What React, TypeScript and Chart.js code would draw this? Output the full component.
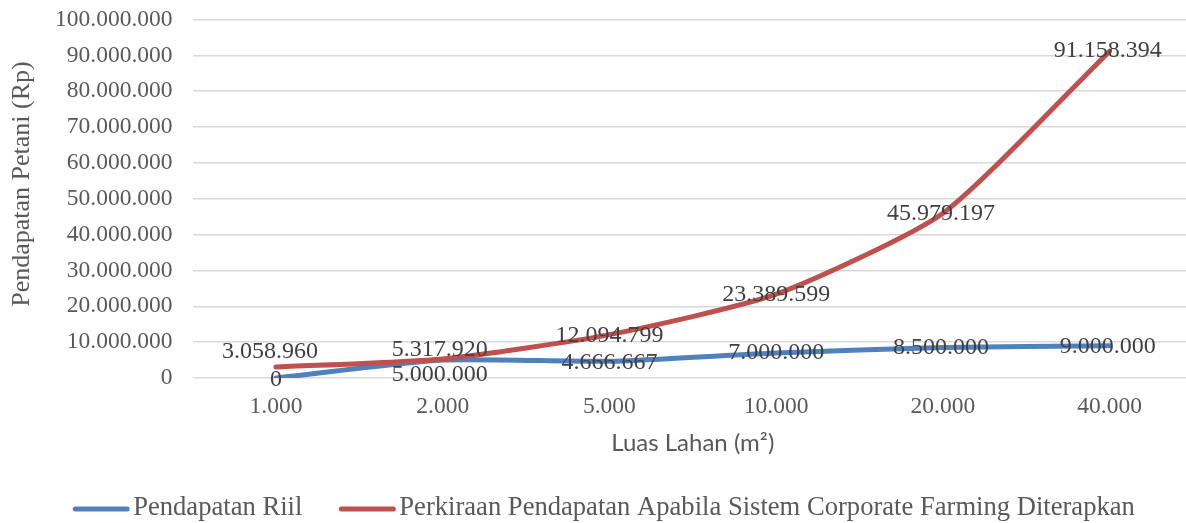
import React, { useEffect, useRef } from 'react';
import { Chart, registerables } from 'chart.js';

Chart.register(...registerables);

// ---- Data ----
const categories = ['1.000', '2.000', '5.000', '10.000', '20.000', '40.000'];
const pendapatanRiil = [0, 5000000, 4666667, 7000000, 8500000, 9000000];
const perkiraanCorporate = [3058960, 5317920, 12094799, 23389599, 45979197, 91158394];
const seriesNames = [
  'Pendapatan Riil',
  'Perkiraan Pendapatan Apabila Sistem Corporate Farming Diterapkan',
];
const yMin = 0;
const yMax = 100000000;
const yStep = 10000000;
const yAxisTitle = 'Pendapatan Petani (Rp)';
const xAxisTitle = 'Luas Lahan (m²)';

// ---- Styles ----
const BLUE = '#4F81BD';
const RED = '#C0504D';
const SERIF = "'Liberation Serif', 'Times New Roman', serif";
const TICK_COLOR = '#595959';
const LABEL_COLOR = '#404040';
// label nudges (dx, dy) in pixels, per point
const blueLabelNudge = [[0, 2], [-3, 15], [0, 1], [0, 0], [-2, 0], [-2, 1]];
const redLabelNudge = [[-6, -15], [-3, -9], [0, 1], [0, 1], [-2, 1], [-2, 0]];

const fmt = (n: number) =>
  Math.round(n).toString().replace(/\B(?=(\d{3})+(?!\d))/g, '.');

const decorPlugin = {
  id: 'decor',
  afterDatasetsDraw(chart: any) {
    const ctx = chart.ctx;
    ctx.save();
    ctx.font = `24px ${SERIF}`;
    ctx.fillStyle = LABEL_COLOR;
    ctx.textAlign = 'center';
    ctx.textBaseline = 'middle';
    chart.data.datasets.forEach((ds: any, i: number) => {
      const meta = chart.getDatasetMeta(i);
      const nudges = i === 0 ? blueLabelNudge : redLabelNudge;
      meta.data.forEach((el: any, j: number) => {
        const [dx, dy] = nudges[j];
        ctx.fillText(fmt(ds.data[j]), el.x + dx, el.y + dy);
      });
    });
    ctx.restore();
  },
  afterDraw(chart: any) {
    const ctx = chart.ctx;
    ctx.save();
    // y axis title
    ctx.font = `26px ${SERIF}`;
    ctx.fillStyle = TICK_COLOR;
    ctx.textAlign = 'center';
    ctx.textBaseline = 'middle';
    ctx.translate(22, 184);
    ctx.rotate(-Math.PI / 2);
    ctx.fillText(yAxisTitle, 0, 0);
    ctx.restore();

    // legend
    ctx.save();
    ctx.font = `26.6px ${SERIF}`;
    ctx.textBaseline = 'middle';
    ctx.textAlign = 'left';
    const sample = 56;
    const gap = 4;
    const itemGap = 37;
    const colors = [BLUE, RED];
    const widths = seriesNames.map((s) => ctx.measureText(s).width);
    const total =
      widths.reduce((a, w) => a + sample + gap + w, 0) + itemGap * (seriesNames.length - 1);
    let x = 604 - total / 2;
    const y = 508;
    seriesNames.forEach((name, i) => {
      ctx.strokeStyle = colors[i];
      ctx.lineWidth = 5;
      ctx.lineCap = 'round';
      ctx.beginPath();
      ctx.moveTo(x + 2, y + 1);
      ctx.lineTo(x + sample - 2, y + 1);
      ctx.stroke();
      ctx.fillStyle = TICK_COLOR;
      ctx.fillText(name, x + sample + gap, y);
      x += sample + gap + widths[i] + itemGap;
    });
    ctx.restore();
  },
};

export default function App() {
  const canvasRef = useRef<HTMLCanvasElement | null>(null);

  useEffect(() => {
    if (!canvasRef.current) return;
    const chart = new Chart(canvasRef.current, {
      type: 'line',
      data: {
        labels: categories,
        datasets: [
          {
            label: seriesNames[0],
            data: pendapatanRiil,
            borderColor: BLUE,
            backgroundColor: BLUE,
            borderWidth: 5,
            pointRadius: 0,
            pointHoverRadius: 0,
            tension: 0.2,
            borderCapStyle: 'round',
            borderJoinStyle: 'round',
            order: 1,
          },
          {
            label: seriesNames[1],
            data: perkiraanCorporate,
            borderColor: RED,
            backgroundColor: RED,
            borderWidth: 5,
            pointRadius: 0,
            pointHoverRadius: 0,
            tension: 0.2,
            borderCapStyle: 'round',
            borderJoinStyle: 'round',
            order: 0,
          },
        ],
      },
      options: {
        animation: false,
        responsive: true,
        maintainAspectRatio: false,
        layout: { padding: 0 },
        plugins: {
          legend: { display: false },
          tooltip: { enabled: false },
          title: { display: false },
        },
        scales: {
          x: {
            type: 'category',
            offset: true,
            grid: { display: false, drawTicks: false },
            border: { display: false },
            ticks: {
              color: TICK_COLOR,
              font: { family: SERIF, size: 23.5 },
              padding: 15,
              maxRotation: 0,
            },
            title: {
              display: true,
              text: xAxisTitle,
              color: TICK_COLOR,
              font: { family: "Lato, 'Open Sans', sans-serif", size: 24 },
              padding: { top: 0, bottom: 65 },
            },
            afterFit: (scale: any) => {
              scale.height = 145;
              scale.paddingLeft = 0;
              scale.paddingRight = 0;
            },
          },
          y: {
            min: yMin,
            max: yMax,
            grid: { color: '#d9d9d9', lineWidth: 1.5, drawTicks: false },
            border: { display: false },
            ticks: {
              stepSize: yStep,
              color: TICK_COLOR,
              font: { family: SERIF, size: 23.5 },
              padding: 20,
              callback: (v: any) => fmt(Number(v)),
            },
            afterFit: (scale: any) => {
              scale.width = 192.6;
              scale.paddingTop = 19.5;
              scale.paddingBottom = 0;
            },
          },
        },
      },
      plugins: [decorPlugin],
    });
    return () => chart.destroy();
  }, []);

  return (
    <div
      style={{
        position: 'fixed',
        left: 0,
        top: 0,
        width: '1193px',
        height: '523px',
        background: '#ffffff',
      }}
    >
      <canvas ref={canvasRef} />
    </div>
  );
}
